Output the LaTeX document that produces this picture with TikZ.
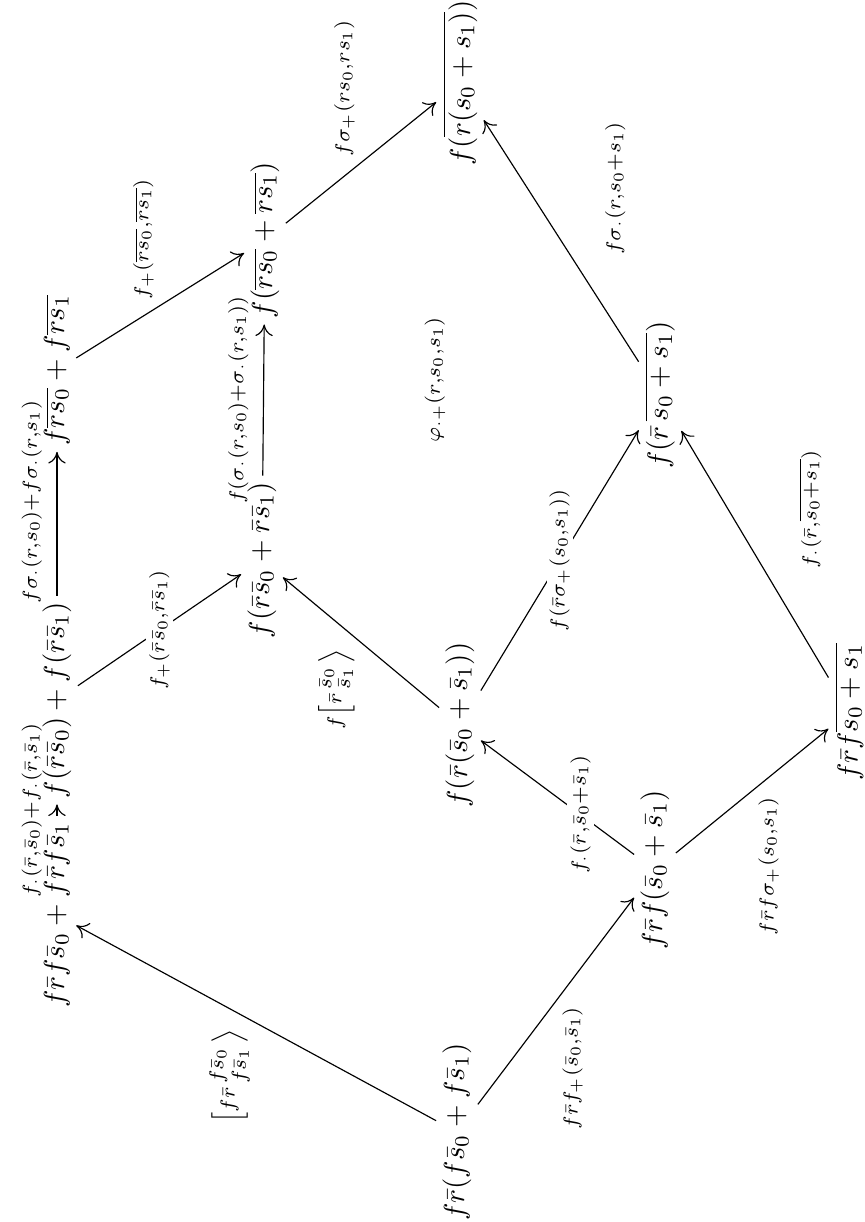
\documentclass[tikz,border=0pt]{standalone}
\usepackage{amsmath,amssymb}
\usetikzlibrary{arrows.meta}

\begin{document}
\begin{tikzpicture}[
  rotate=90, transform shape,
  x=0.345pt, y=0.345pt,
  obj/.style={inner sep=2pt},
  lbl/.style={inner sep=2pt},
  cut/.style={lbl, fill=white, inner sep=1pt},
  >={Computer Modern Rightarrow[length=4pt,width=6pt]}
]
\useasboundingbox (0,0) rectangle (1222,865);

% objects
\node[obj] (frfsum) at (90,408) {$f\bar r(f\bar s_0+f\bar s_1)$};
\node[obj] (prodsum) at (307,808) {$f\bar r f\bar s_0+f\bar r f\bar s_1$};
\node[obj] (fprods) at (522,808) {$f(\bar r\bar s_0)+f(\bar r\bar s_1)$};
\node[obj] (fbars) at (852,808) {$f\overline{rs_0}+f\overline{rs_1}$};
\node[obj] (frfs) at (352,210) {$f\bar r f(\bar s_0+\bar s_1)$};
\node[obj] (frfbar) at (510,16) {$f\bar r f\overline{s_0+s_1}$};
\node[obj] (frsum) at (497,405) {$f(\bar r(\bar s_0+\bar s_1))$};
\node[obj] (fsumprods) at (662,603) {$f(\bar r\bar s_0+\bar r\bar s_1)$};
\node[obj] (frbar) at (827,205) {$f(\bar r\,\overline{s_0+s_1})$};
\node[obj] (fsumbars) at (982,600) {$f(\overline{rs_0}+\overline{rs_1})$};
\node[obj] (fbarall) at (1139,405) {$f(\overline{r(s_0+s_1)})$};

\node[lbl] (phi) at (842,430) {$\scriptstyle\varphi_{\cdot+}(r,s_0,s_1)$};

% left path
\draw[->] (frfsum) -- (prodsum)
  node[lbl, midway, above left] {$\scriptstyle\left[f\bar r\begin{smallmatrix}f\bar s_0\\ f\bar s_1\end{smallmatrix}\right\rangle$};
\draw[->] (prodsum) -- (fprods)
  node[lbl, midway, above=3pt] {$\scriptstyle f_\cdot(\bar r,\bar s_0)+f_\cdot(\bar r,\bar s_1)$};
\draw[->] (fprods) -- (fbars)
  node[lbl, pos=0.65, above=3pt] {$\scriptstyle f\sigma_\cdot(r,s_0)+f\sigma_\cdot(r,s_1)$};
\draw[->] (fprods) -- (fsumprods)
  node[cut, midway] {$\scriptstyle f_+(\bar r\bar s_0,\bar r\bar s_1)$};
\draw[->] (fbars) -- (fsumbars)
  node[lbl, midway, above right] {$\scriptstyle f_+(\overline{rs_0},\overline{rs_1})$};
\draw[->] (fsumprods) -- (fsumbars)
  node[lbl, midway, above=3pt] {$\scriptstyle f(\sigma_\cdot(r,s_0)+\sigma_\cdot(r,s_1))$};
\draw[->] (fsumbars) -- (fbarall)
  node[lbl, midway, above right] {$\scriptstyle f\sigma_+(rs_0,rs_1)$};

% right path
\draw[->] (frfsum) -- (frfs)
  node[lbl, midway, below left] {$\scriptstyle f\bar r f_+(\bar s_0,\bar s_1)$};
\draw[->] (frfs) -- (frfbar)
  node[lbl, midway, below left] {$\scriptstyle f\bar r f\sigma_+(s_0,s_1)$};
\draw[->] (frfs) -- (frsum)
  node[cut, pos=0.35] {$\scriptstyle f_\cdot(\bar r,\bar s_0+\bar s_1)$};
\draw[->] (frsum) -- (fsumprods)
  node[lbl, midway, above left] {$\scriptstyle f\left[\bar r\begin{smallmatrix}\bar s_0\\ \bar s_1\end{smallmatrix}\right\rangle$};
\draw[->] (frsum) -- (frbar)
  node[cut, midway] {$\scriptstyle f(\bar r\sigma_+(s_0,s_1))$};
\draw[->] (frfbar) -- (frbar)
  node[lbl, midway, below right, xshift=-7pt, yshift=-13pt] {$\scriptstyle f_\cdot(\bar r,\overline{s_0+s_1})$};
\draw[->] (frbar) -- (fbarall)
  node[lbl, midway, below right, xshift=-7pt, yshift=-13pt] {$\scriptstyle f\sigma_\cdot(r,s_0+s_1)$};
\end{tikzpicture}
\end{document}
